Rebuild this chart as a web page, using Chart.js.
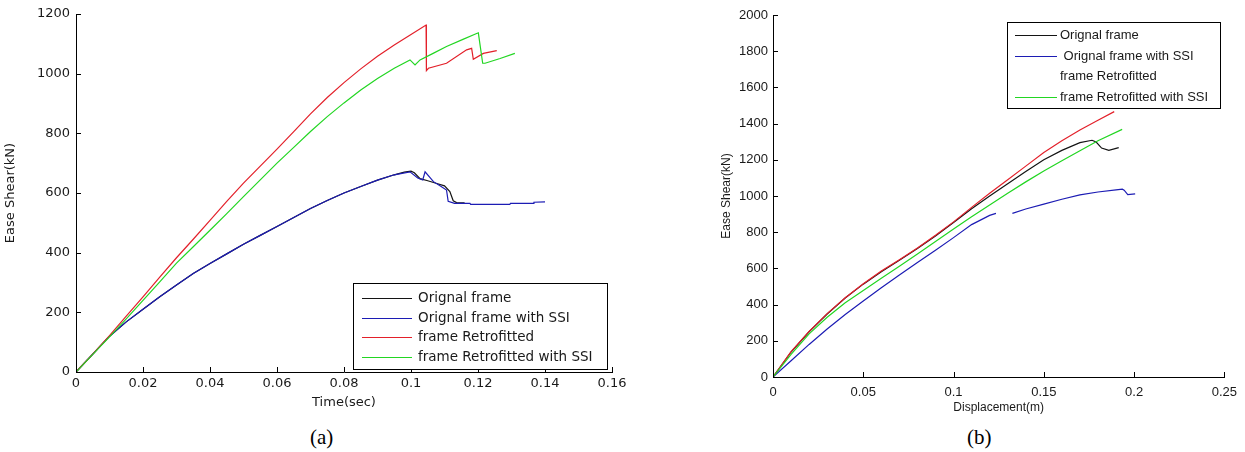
<!DOCTYPE html>
<html>
<head>
<meta charset="utf-8">
<script src="https://cdn.jsdelivr.net/npm/chart.js@4.4.1/dist/chart.umd.min.js"></script>
<style>
  html, body { margin: 0; padding: 0; background: #fff; }
  body { width: 1245px; height: 452px; position: relative; overflow: hidden; }
  .panel { position: absolute; top: 0; }
  #wrapA { left: 0; }
  #wrapB { left: 712px; }
  .cap { position: absolute; font-family: "Liberation Serif", "Times New Roman", serif; font-size: 21px; color: #000; line-height: 24px; }
</style>
</head>
<body>
<div class="panel" id="wrapA"><canvas id="chartA" width="640" height="420"></canvas></div>
<div class="panel" id="wrapB"><canvas id="chartB" width="533" height="420"></canvas></div>
<div class="cap" style="left:310px; top:425px;">(a)</div>
<div class="cap" style="left:967px; top:425px;">(b)</div>

<script>
// ── Series names / colours ──
const seriesNames = ['Orignal frame', 'Orignal frame with SSI', 'frame Retrofitted', 'frame Retrofitted with SSI'];
const seriesNamesB = ['Orignal frame', ' Orignal frame with SSI', 'frame Retrofitted', 'frame Retrofitted with SSI'];
const seriesColors = ['#141414', '#1c1cb4', '#e3202a', '#22d622'];

// ── (a) Base shear vs time ──
const timeOrig  = [0, 0.005, 0.01, 0.015, 0.02, 0.025, 0.03, 0.035, 0.04, 0.045, 0.05, 0.055, 0.06, 0.065, 0.07, 0.075, 0.08, 0.085, 0.09, 0.095, 0.098, 0.1, 0.101, 0.1027, 0.105, 0.1077, 0.11, 0.1116, 0.1126, 0.1136, 0.116];
const shearOrig = [0, 60, 120, 168, 210, 252, 292, 330, 364, 396, 428, 458, 488, 518, 548, 575, 600, 622, 643, 661, 670, 673, 668, 648, 641, 632, 624, 605, 574, 568, 567];

const timeSSI  = [0, 0.005, 0.01, 0.015, 0.02, 0.025, 0.03, 0.035, 0.04, 0.045, 0.05, 0.055, 0.06, 0.065, 0.07, 0.075, 0.08, 0.085, 0.09, 0.095, 0.0997, 0.102, 0.1035, 0.1042, 0.1067, 0.109, 0.1106, 0.1111, 0.113, 0.1176, 0.1178, 0.1295, 0.1297, 0.1365, 0.1367, 0.14];
const shearSSI = [0, 60, 120, 168, 210, 252, 292, 330, 364, 396, 428, 458, 488, 518, 548, 575, 600, 622, 643, 661, 671, 650, 644, 671, 638, 622, 610, 572, 565, 565, 562, 562, 565, 565, 569, 570];

const timeRetro  = [0, 0.005, 0.01, 0.015, 0.02, 0.025, 0.03, 0.035, 0.04, 0.045, 0.05, 0.055, 0.06, 0.065, 0.07, 0.075, 0.08, 0.085, 0.09, 0.095, 0.1, 0.1045, 0.1046, 0.1052, 0.1106, 0.1166, 0.1181, 0.1186, 0.1216, 0.1256];
const shearRetro = [0, 60, 122, 187, 252, 318, 383, 445, 508, 572, 633, 690, 747, 806, 865, 920, 970, 1016, 1058, 1096, 1131, 1163, 1010, 1018, 1035, 1080, 1085, 1048, 1068, 1077];

const timeRetroSSI  = [0, 0.005, 0.01, 0.015, 0.02, 0.025, 0.03, 0.035, 0.04, 0.045, 0.05, 0.055, 0.06, 0.065, 0.07, 0.075, 0.08, 0.085, 0.09, 0.095, 0.0997, 0.1012, 0.1027, 0.1066, 0.1106, 0.1155, 0.1201, 0.1214, 0.1221, 0.1266, 0.131];
const shearRetroSSI = [0, 59, 118, 178, 240, 302, 365, 420, 475, 531, 588, 644, 700, 753, 806, 856, 902, 945, 984, 1018, 1046, 1029, 1046, 1068, 1091, 1115, 1137, 1035, 1035, 1051, 1068];

const timeTicks = [0, 0.02, 0.04, 0.06, 0.08, 0.1, 0.12, 0.14, 0.16];
const timeTickLabels = ['0', '0.02', '0.04', '0.06', '0.08', '0.1', '0.12', '0.14', '0.16'];
const shearTicksA = [0, 200, 400, 600, 800, 1000, 1200];
const shearTickLabelsA = ['0', '200', '400', '600', '800', '1000', '1200'];

// ── (b) Base shear vs displacement ──
const dispOrig  = [0, 0.01, 0.02, 0.03, 0.04, 0.05, 0.06, 0.07, 0.08, 0.09, 0.1, 0.11, 0.12, 0.13, 0.14, 0.15, 0.16, 0.17, 0.1767, 0.179, 0.182, 0.186, 0.1915];
const shearDOrig = [0, 138, 250, 348, 436, 513, 582, 645, 710, 779, 854, 930, 1000, 1067, 1135, 1200, 1252, 1295, 1308, 1298, 1265, 1252, 1267];

const dispSSI  = [0, 0.01, 0.02, 0.03, 0.04, 0.05, 0.06, 0.07, 0.08, 0.09, 0.1, 0.11, 0.12, 0.1235, 0.128, 0.1326, 0.14, 0.15, 0.16, 0.17, 0.18, 0.19, 0.1935, 0.1945, 0.1965, 0.2006];
const shearDSSI = [0, 90, 180, 265, 345, 420, 493, 563, 632, 700, 770, 842, 893, 904, null, 904, 928, 955, 982, 1006, 1022, 1034, 1038, 1032, 1008, 1012];

const dispRetro  = [0, 0.01, 0.02, 0.03, 0.04, 0.05, 0.06, 0.07, 0.08, 0.09, 0.1, 0.11, 0.12, 0.13, 0.14, 0.15, 0.16, 0.17, 0.18, 0.189];
const shearDRetro = [0, 140, 252, 350, 438, 515, 585, 648, 713, 783, 857, 937, 1015, 1090, 1165, 1240, 1305, 1365, 1418, 1466];

const dispRetroSSI  = [0, 0.01, 0.02, 0.03, 0.04, 0.05, 0.06, 0.07, 0.08, 0.09, 0.1, 0.11, 0.12, 0.13, 0.14, 0.15, 0.16, 0.17, 0.18, 0.1934];
const shearDRetroSSI = [0, 125, 238, 330, 410, 478, 545, 612, 680, 748, 818, 885, 950, 1015, 1078, 1138, 1195, 1250, 1305, 1368];

const dispTicks = [0, 0.05, 0.1, 0.15, 0.2, 0.25];
const dispTickLabels = ['0', '0.05', '0.1', '0.15', '0.2', '0.25'];
const shearTicksB = [0, 200, 400, 600, 800, 1000, 1200, 1400, 1600, 1800, 2000];
const shearTickLabelsB = ['0', '200', '400', '600', '800', '1000', '1200', '1400', '1600', '1800', '2000'];

// ── helpers ──
function series(label, xs, ys, color, order) {
  return {
    label,
    data: xs.map((x, i) => ({ x, y: ys[i] })),
    borderColor: color,
    backgroundColor: color,
    borderWidth: 1.2,
    pointRadius: 0,
    showLine: true,
    spanGaps: false,
    tension: 0,
    order
  };
}

// MATLAB style tick marks pointing into the plot
const inwardTicks = {
  id: 'inwardTicks',
  afterDraw(chart, args, opts) {
    const { ctx, chartArea: a, scales: { x, y } } = chart;
    ctx.save();
    ctx.strokeStyle = '#000';
    ctx.lineWidth = 1;
    ctx.beginPath();
    x.ticks.forEach(t => {
      const px = Math.round(x.getPixelForValue(t.value)) + 0.5;
      ctx.moveTo(px, a.bottom);
      ctx.lineTo(px, a.bottom - opts.len);
    });
    y.ticks.forEach(t => {
      const py = Math.round(y.getPixelForValue(t.value)) + 0.5;
      ctx.moveTo(a.left, py);
      ctx.lineTo(a.left + opts.len, py);
    });
    ctx.stroke();
    ctx.restore();
  }
};

// boxed legend inside the axes
const boxLegend = {
  id: 'boxLegend',
  afterDraw(chart, args, o) {
    const ctx = chart.ctx;
    ctx.save();
    ctx.fillStyle = '#fff';
    ctx.fillRect(o.x, o.y, o.w, o.h);
    ctx.strokeStyle = '#000';
    ctx.lineWidth = 1;
    ctx.strokeRect(o.x + 0.5, o.y + 0.5, o.w, o.h);
    ctx.font = o.font;
    ctx.textBaseline = 'middle';
    chart.data.datasets.forEach((ds, i) => {
      const ry = Math.round(o.y + o.firstRow + i * o.rowGap) + 0.5;
      if (o.hideLine.indexOf(i) < 0) {
        ctx.strokeStyle = ds.borderColor;
        ctx.beginPath();
        ctx.moveTo(o.x + o.lineStart, ry);
        ctx.lineTo(o.x + o.lineEnd, ry);
        ctx.stroke();
      }
      ctx.fillStyle = '#1a1a1a';
      ctx.fillText(ds.label, o.x + o.textStart, ry);
    });
    ctx.restore();
  }
};

function axis(min, max, tickVals, tickLabels, font, pad, fitSize, horizontal, title, titleFont, titlePad) {
  return {
    type: 'linear',
    min, max,
    afterBuildTicks: s => { s.ticks = tickVals.map(v => ({ value: v })); },
    afterFit: s => { if (horizontal) s.height = fitSize; else s.width = fitSize; },
    grid: { display: false, drawTicks: false },
    border: { display: true, color: '#000', width: 1 },
    ticks: {
      autoSkip: false, maxRotation: 0, padding: pad, color: '#1a1a1a', font,
      callback: (v, i) => tickLabels[i]
    },
    title: { display: true, text: title, color: '#1a1a1a', font: titleFont, padding: titlePad }
  };
}

// ── Chart (a) ──
const fontA = { family: 'DejaVu Sans', size: 13 };
new Chart(document.getElementById('chartA'), {
  type: 'scatter',
  data: {
    datasets: [
      series(seriesNames[0], timeOrig, shearOrig, seriesColors[0], 4),
      series(seriesNames[1], timeSSI, shearSSI, seriesColors[1], 3),
      series(seriesNames[2], timeRetro, shearRetro, seriesColors[2], 2),
      series(seriesNames[3], timeRetroSSI, shearRetroSSI, seriesColors[3], 1)
    ]
  },
  options: {
    responsive: false,
    animation: false,
    layout: { padding: { left: 0, top: 14, right: 28, bottom: 0 } },
    plugins: {
      legend: { display: false },
      tooltip: { enabled: false },
      inwardTicks: { len: 5 },
      boxLegend: {
        x: 353, y: 283, w: 254, h: 86, firstRow: 15, rowGap: 19.5,
        lineStart: 9, lineEnd: 59, textStart: 65,
        font: '13.5px "DejaVu Sans"', hideLine: []
      }
    },
    scales: {
      x: axis(0, 0.16, timeTicks, timeTickLabels, fontA, 4, 48, true, 'Time(sec)', fontA, { top: 0, bottom: 10 }),
      y: axis(0, 1200, shearTicksA, shearTickLabelsA, fontA, 6, 76, false, 'Ease Shear(kN)', fontA, { top: 3, bottom: 0 })
    }
  },
  plugins: [inwardTicks, boxLegend]
});

// ── Chart (b) ──
const fontB = { family: 'Liberation Sans', size: 13 };
const titleFontB = { family: 'Liberation Sans', size: 12 };
new Chart(document.getElementById('chartB'), {
  type: 'scatter',
  data: {
    datasets: [
      series(seriesNamesB[0], dispOrig, shearDOrig, seriesColors[0], 4),
      series(seriesNamesB[1], dispSSI, shearDSSI, seriesColors[1], 3),
      series(seriesNamesB[2], dispRetro, shearDRetro, seriesColors[2], 2),
      series(seriesNamesB[3], dispRetroSSI, shearDRetroSSI, seriesColors[3], 1)
    ]
  },
  options: {
    responsive: false,
    animation: false,
    layout: { padding: { left: 0, top: 15, right: 19, bottom: 0 } },
    plugins: {
      legend: { display: false },
      tooltip: { enabled: false },
      inwardTicks: { len: 5 },
      boxLegend: {
        x: 295, y: 22, w: 213, h: 86, firstRow: 13, rowGap: 20.7,
        lineStart: 8, lineEnd: 50, textStart: 53,
        font: '13px "Liberation Sans"', hideLine: [2]
      }
    },
    scales: {
      x: axis(0, 0.25, dispTicks, dispTickLabels, fontB, 8, 43, true, 'Displacement(m)', titleFontB, { top: 0, bottom: 5 }),
      y: axis(0, 2000, shearTicksB, shearTickLabelsB, fontB, 5, 61, false, 'Ease Shear(kN)', titleFontB, { top: 7, bottom: 0 })
    }
  },
  plugins: [inwardTicks, boxLegend]
});
</script>
</body>
</html>
